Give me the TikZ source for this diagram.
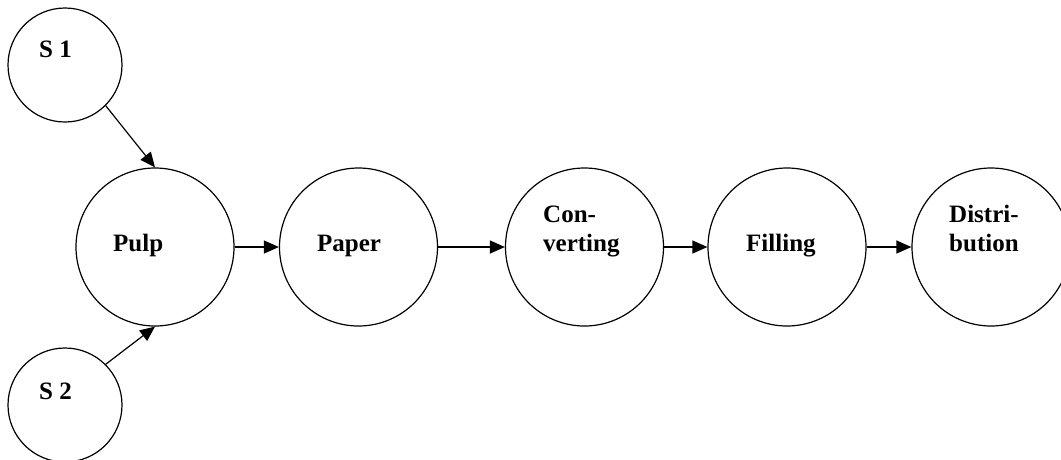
\documentclass[tikz,border=0pt]{standalone}
\usepackage{fontspec}
\setmainfont{Liberation Serif}
\usetikzlibrary{arrows.meta}
\begin{document}
\begin{tikzpicture}[x=1pt,y=-1pt,
  big/.style={circle,draw,line width=1.2pt,minimum size=158pt,inner sep=0pt},
  small/.style={circle,draw,line width=1.2pt,minimum size=114pt,inner sep=0pt},
  lbl/.style={anchor=base west,inner sep=0pt,align=left,font=\fontsize{25}{29}\selectfont\bfseries},
  arr/.style={line width=1.2pt,-{Triangle[length=15pt,width=13pt]}}]
\useasboundingbox (0,0) rectangle (1061,459);
\clip (0,0) rectangle (1061,459);
\node[small] (S1) at (65,65) {};
\node[small] (S2) at (65,405) {};
\node[big] (Pulp) at (155,247) {};
\node[big] (Paper) at (358.5,247) {};
\node[big] (Conv) at (584.5,247) {};
\node[big] (Fill) at (787,247) {};
\node[big] (Dist) at (991,247) {};
\node[lbl] (tS1) at (39,57) {S 1};
\node[lbl] (tS2) at (39,399) {S 2};
\node[lbl] (tPulp) at (113,251) {Pulp};
\node[lbl] (tPaper) at (317,251) {Paper};
\node[lbl] (tConv) at (543,251) {Con-\\verting};
\node[lbl] (tFill) at (746,251) {Filling};
\node[lbl] (tDist) at (949,251) {Distri-\\bution};
\draw[arr] (S1.-45) -- (Pulp.north);
\draw[arr] (S2.45) -- (Pulp.south);
\draw[arr] (Pulp.east) -- (Paper.west);
\draw[arr] (Paper.east) -- (Conv.west);
\draw[arr] (Conv.east) -- (Fill.west);
\draw[arr] (Fill.east) -- (Dist.west);
\end{tikzpicture}
\end{document}
